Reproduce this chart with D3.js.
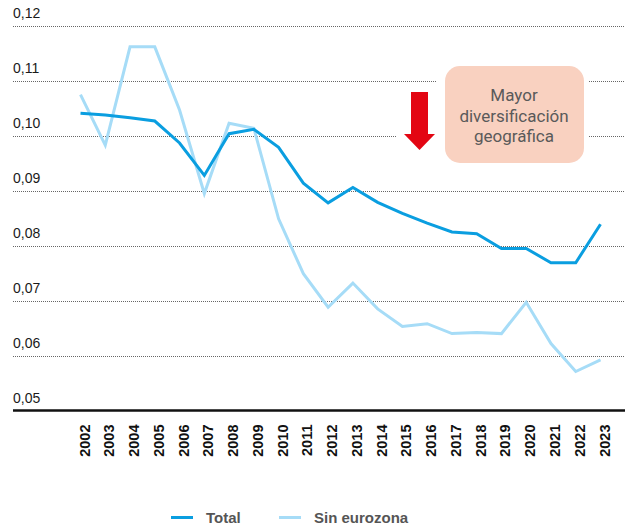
<!DOCTYPE html>
<html>
<head>
<meta charset="utf-8">
<script src="https://cdn.jsdelivr.net/npm/d3@7"></script>
<style>
  body { margin: 0; background: #fff; }
  svg { display: block; font-family: "Liberation Sans", Arial, sans-serif; }
</style>
</head>
<body>
<div id="chart"></div>
<script>
// data
const years = ["2002","2003","2004","2005","2006","2007","2008","2009","2010","2011","2012",
  "2013","2014","2015","2016","2017","2018","2019","2020","2021","2022","2023"];
const total = [0.1041, 0.1038, 0.1033, 0.1027, 0.0987, 0.0928, 0.1004, 0.1012, 0.0979, 0.0914, 0.0878,
  0.0906, 0.0879, 0.0859, 0.0841, 0.0825, 0.0822, 0.0795, 0.0795, 0.0769, 0.0769, 0.0839];
const sinEurozona = [0.1075, 0.0983, 0.1162, 0.1162, 0.1047, 0.0895, 0.1023, 0.1014, 0.0849, 0.0749, 0.0688,
  0.0732, 0.0685, 0.0653, 0.0658, 0.0640, 0.0642, 0.0640, 0.0697, 0.0622, 0.0571, 0.0592];
const yTicks = [0.05, 0.06, 0.07, 0.08, 0.09, 0.10, 0.11, 0.12];
const seriesNames = ["Total", "Sin eurozona"];
const seriesColors = ["#0a9ee0", "#a6dcf7"];
const noteLines = ["Mayor", "diversificación", "geográfica"];

const width = 625, height = 525;
const fmt = d => d.toFixed(2).replace(".", ",");

const svg = d3.select("#chart").append("svg")
  .attr("width", width)
  .attr("height", height);

const x = d3.scalePoint().domain(years).range([80.5, 600.5]);
const y = d3.scaleLinear().domain([0.05, 0.12]).range([410.5, 26]);

// grid lines (dotted)
const grid = svg.append("g");
grid.selectAll("line")
  .data(yTicks.filter(d => d > 0.05))
  .join("line")
  .attr("x1", 13).attr("x2", width)
  .attr("y1", d => Math.round(y(d)) + 0.5)
  .attr("y2", d => Math.round(y(d)) + 0.5)
  .attr("stroke", "#666")
  .attr("stroke-width", 1)
  .attr("stroke-dasharray", "1,1");

// y labels sit above their grid line
svg.append("g").selectAll("text")
  .data(yTicks)
  .join("text")
  .attr("x", 13)
  .attr("y", d => y(d) - 8)
  .attr("font-size", 14)
  .attr("fill", "#1a1a1a")
  .text(fmt);

// base axis line
svg.append("line")
  .attr("x1", 13).attr("x2", width)
  .attr("y1", y(0.05)).attr("y2", y(0.05))
  .attr("stroke", "#111")
  .attr("stroke-width", 2.5);

// year labels, rotated
svg.append("g").selectAll("text")
  .data(years)
  .join("text")
  .attr("transform", d => `translate(${x(d) + 9},424.5) rotate(-90)`)
  .attr("text-anchor", "end")
  .attr("font-size", 14.5)
  .attr("font-weight", "bold")
  .attr("fill", "#111")
  .text(d => d);

// lines
const line = d3.line()
  .x((d, i) => x(years[i]))
  .y(d => y(d));

svg.append("path")
  .datum(sinEurozona)
  .attr("fill", "none")
  .attr("stroke", seriesColors[1])
  .attr("stroke-width", 3)
  .attr("d", line);

svg.append("path")
  .datum(total)
  .attr("fill", "none")
  .attr("stroke", seriesColors[0])
  .attr("stroke-width", 3)
  .attr("d", line);

// annotation: arrow + note box, with white knock-outs over the grid
const note = svg.append("g");
note.append("rect")
  .attr("x", 397).attr("y", 86).attr("width", 44).attr("height", 72)
  .attr("fill", "#fff");
note.append("rect")
  .attr("x", 436).attr("y", 62).attr("width", 152).attr("height", 105)
  .attr("fill", "#fff");

note.append("path")
  .attr("d", "M411,92 L428,92 L428,134 L435,134 L419.5,150 L404,134 L411,134 Z")
  .attr("fill", "#e30613");

note.append("rect")
  .attr("x", 445).attr("y", 66).attr("width", 139).attr("height", 97)
  .attr("rx", 15).attr("ry", 15)
  .attr("fill", "#f9d1c0");

note.append("text")
  .attr("text-anchor", "middle")
  .attr("font-family", "Roboto, 'Liberation Sans', sans-serif")
  .attr("font-size", 17)
  .attr("fill", "#5a5a5a")
  .selectAll("tspan")
  .data(noteLines)
  .join("tspan")
  .attr("x", 514)
  .attr("y", (d, i) => 101 + i * 20.5)
  .text(d => d);

// legend
const legend = svg.append("g");
const legendX = [171, 279];
seriesNames.forEach((name, i) => {
  legend.append("line")
    .attr("x1", legendX[i]).attr("x2", legendX[i] + 22)
    .attr("y1", 517.5).attr("y2", 517.5)
    .attr("stroke", seriesColors[i])
    .attr("stroke-width", 3);
  legend.append("text")
    .attr("x", legendX[i] + 35)
    .attr("y", 522.5)
    .attr("font-size", 15)
    .attr("font-weight", "bold")
    .attr("fill", "#555")
    .text(name);
});
</script>
</body>
</html>
